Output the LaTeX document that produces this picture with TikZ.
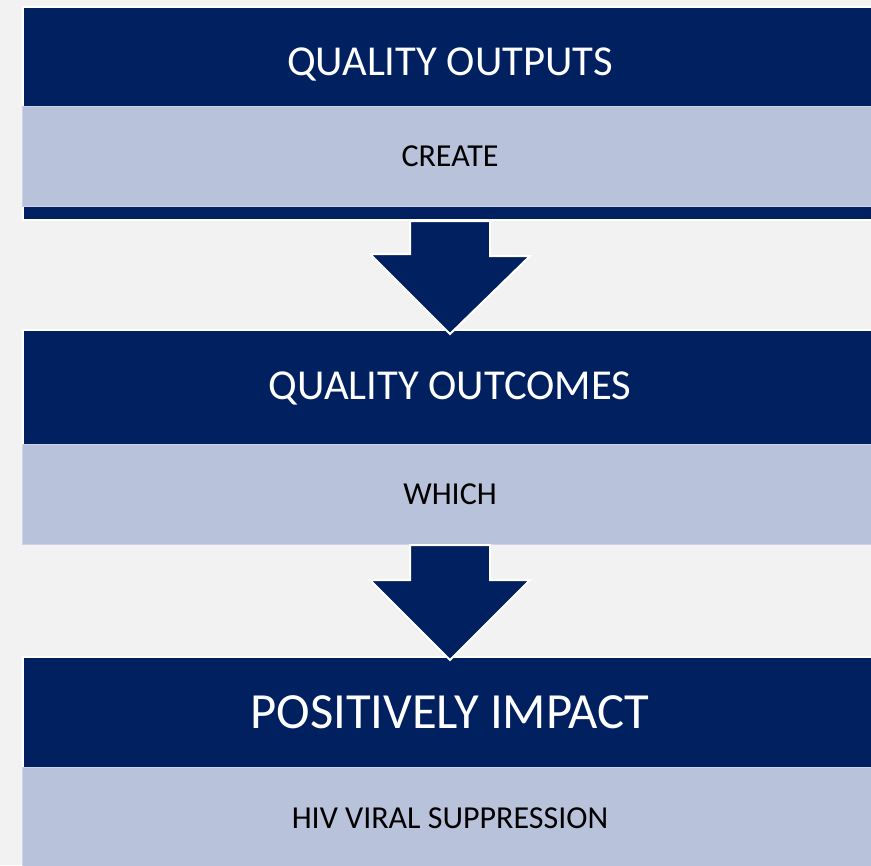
\documentclass[tikz,border=0pt]{standalone}
\usepackage{fontspec}
\setmainfont{Carlito}
\usepackage{tikz}
\usepackage{xcolor}
\usetikzlibrary{calc}
\definecolor{navy}{HTML}{00205F}
\definecolor{band}{HTML}{B8C2DB}
\definecolor{bandline}{HTML}{CDD4E8}
\definecolor{backdrop}{HTML}{F2F2F2}

\begin{document}
\begin{tikzpicture}[x=0.75pt,y=-0.75pt,
        navybox/.style={rectangle,fill=navy,draw=white,line width=1.5pt,minimum width=640.5pt,anchor=north,inner sep=0pt},
        bandbox/.style={rectangle,fill=band,draw=bandline,line width=0.75pt,minimum width=642pt,anchor=north,inner sep=0pt,
            text=black,font=\fontsize{24}{29}\selectfont,text height=15.5pt,text depth=0pt},
        title/.style={text=white,inner sep=0pt,text depth=0pt},
        flowarrow/.style={fill=navy,draw=white,line width=1.5pt,line join=miter}]
            \fill[backdrop,use as bounding box] (0,0) rectangle (871,865);
            \clip (0,0) rectangle (871,865);
            % first block
            \node[navybox,minimum height=159.75pt] (outputs) at (450,6) {};
            \node[bandbox,minimum height=75pt] (create) at (450,105.5) {CREATE};
            % second block
            \node[navybox,minimum height=87pt] (outcomes) at (450,329) {};
            \draw[flowarrow] ($(outputs.south)+(-40,0)$) -- ++(80,0) -- ++(0,35) -- ++(40,0)
                -- ($(outcomes.north)+(0,5)$) -- ++(-80,-80) -- ++(40,0) -- cycle;
            \node[bandbox,minimum height=75pt] (which) at (450,444) {WHICH};
            % third block
            \node[navybox,minimum height=165pt] (impact) at (450,656) {};
            \draw[flowarrow] ($(which.south)+(-40,0)$) -- ++(80,0) -- ++(0,35) -- ++(40,0)
                -- ($(impact.north)+(0,4)$) -- ++(-80,-80) -- ++(40,0) -- cycle;
            \node[bandbox,minimum height=76.5pt] (suppression) at (450,767) {HIV VIRAL SUPPRESSION};
            % titles
            \node[title,font=\fontsize{32}{38}\selectfont,text height=20.6pt] (outputs title) at (450,61.5) {QUALITY OUTPUTS};
            \node[title,font=\fontsize{32}{38}\selectfont,text height=20.6pt] (outcomes title) at (450,385.5) {QUALITY OUTCOMES};
            \node[title,font=\fontsize{38}{45}\selectfont,text height=24.5pt] (impact title) at (450,712.5) {POSITIVELY IMPACT};
        \end{tikzpicture}
\end{document}
